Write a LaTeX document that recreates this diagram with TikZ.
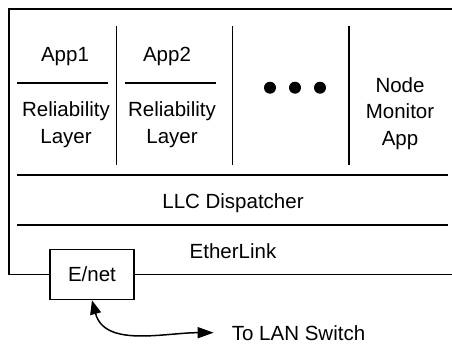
\documentclass[tikz,border=0pt]{standalone}
\usepackage{fontspec}
\setmainfont{Liberation Sans}
\usetikzlibrary{arrows.meta}
\usetikzlibrary{calc}

\begin{document}
\begin{tikzpicture}[x=1pt,y=-1pt]

		\tikzstyle{layer} = [font=\fontsize{20.5}{26.5}\selectfont, inner sep=0pt, anchor=base]
		\tikzstyle{rule}  = [line width=1.5pt]
		\useasboundingbox (0,0) rectangle (452,343);

		%%Ethernet card sitting on the bottom edge
		\node [layer, draw, rule, anchor=center, minimum width=84pt, minimum height=50pt](enet) at (92, 274.5) {E/net};

		%%Outer frame, open on the right
		\draw [rule] (enet.west) -| (9, 9) -- (452, 9);
		\draw [rule] (enet.east) -- (452, 274.5);

		%%Layer boundaries
		\draw [rule] (17, 175) -- (448, 175);
		\draw [rule] (17, 225) -- (448, 225);
		\foreach \x in {116.5, 232.5, 349}
			\draw [rule] (\x, 26) -- (\x, 165);
		\draw [rule] (17, 83) -- (108, 83);
		\draw [rule] (125, 83) -- (216, 83);

		%%More applications
		\foreach \x in {270, 295, 320}
			\fill (\x, 87.7) circle (6pt);

		%%Labels for the layers
		\node [layer](app1) at (65, 61.7) {App1};
		\node [layer](app2) at (167, 61.7) {App2};
		\node [layer, align=center](rel1) at (66, 143.3) {Reliability\\Layer};
		\node [layer, align=center](rel2) at (172, 143.3) {Reliability\\Layer};
		\node [layer, align=center](mon) at (400, 145) {Node\\Monitor\\App};
		\node [layer](llc) at (233, 208) {LLC Dispatcher};
		\node [layer](ether) at (233, 258) {EtherLink};
		\node [layer, anchor=base west](lan) at (231.7, 340) {To LAN Switch};

		\draw [rule, {Triangle[length=14pt, width=11pt]}-{Triangle[length=16pt, width=11pt]}] (enet.south) to[out=-75, in=180] ($(lan.west)+(-18, 0)$);
	\end{tikzpicture}
\end{document}
